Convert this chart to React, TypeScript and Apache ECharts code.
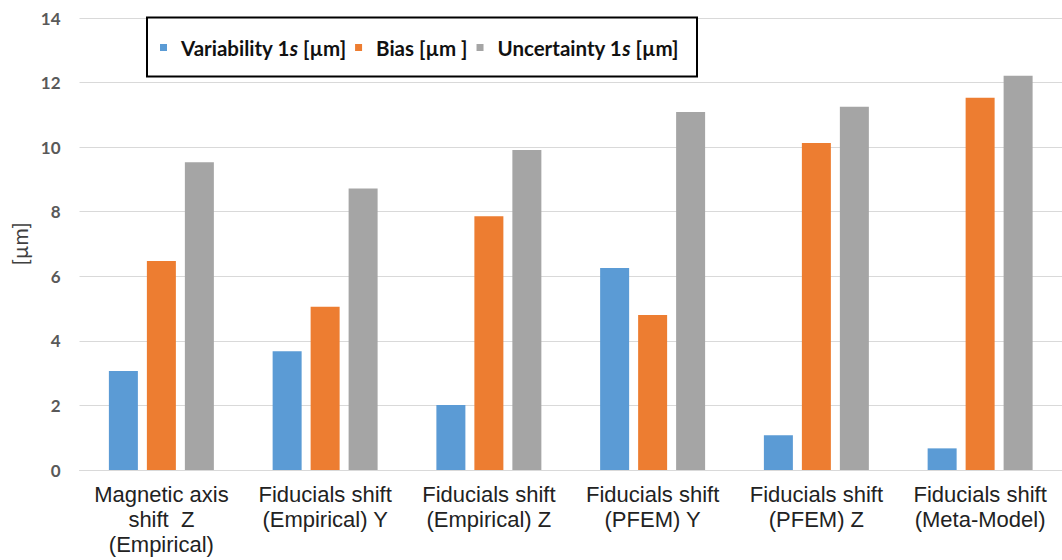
import React, { useEffect, useRef } from "react";
import * as echarts from "echarts";

const categories = [
  "Magnetic axis\nshift  Z\n(Empirical)",
  "Fiducials shift\n(Empirical) Y",
  "Fiducials shift\n(Empirical) Z",
  "Fiducials shift\n(PFEM) Y",
  "Fiducials shift\n(PFEM) Z",
  "Fiducials shift\n(Meta-Model)",
];
const variability = [3.07, 3.68, 2.01, 6.26, 1.08, 0.67];
const bias = [6.47, 5.06, 7.86, 4.8, 10.13, 11.53];
const uncertainty = [9.53, 8.72, 9.91, 11.09, 11.25, 12.21];
const seriesNames = ["Variability 1s [µm]", "Bias [µm ]", "Uncertainty 1s [µm]"];
const yTicks = { min: 0, max: 14, interval: 2 };

export default function App() {
  const ref = useRef<HTMLDivElement>(null);
  useEffect(() => {
    if (!ref.current) return;
    const chart = echarts.init(ref.current, null, { renderer: "svg" });
    const legendFont = { fontFamily: "Lato", fontWeight: "bold", fontSize: 20.5, color: "#111" };
    chart.setOption({
      animation: false,
      backgroundColor: "#ffffff",
      grid: { left: 79.5, right: -7.5, top: 18, bottom: 90, containLabel: false },
      graphic: [
        {
          type: "rect",
          z: 10,
          shape: { x: 147, y: 17.5, width: 550, height: 59 },
          style: { fill: "#ffffff", stroke: "#000000", lineWidth: 2 },
        },
      ],
      legend: {
        z: 20,
        left: 160,
        top: 37,
        padding: 0,
        itemWidth: 7,
        itemHeight: 7,
        itemGap: 9,
        icon: "rect",
        data: seriesNames,
        formatter: (name: string) => name.replace(" 1s ", " 1{i|s} "),
        textStyle: {
          ...legendFont,
          padding: [0, 0, 0, 9],
          rich: {
            i: { ...legendFont, fontStyle: "italic" },
          },
        },
      },
      xAxis: {
        type: "category",
        data: categories,
        axisLine: { show: true, lineStyle: { color: "#D9D9D9", width: 1 } },
        axisTick: { show: false },
        axisLabel: {
          interval: 0,
          margin: 12,
          fontFamily: "Liberation Sans",
          fontSize: 22,
          lineHeight: 25,
          color: "#222222",
          align: "center",
        },
      },
      yAxis: {
        type: "value",
        min: yTicks.min,
        max: yTicks.max,
        interval: yTicks.interval,
        name: "[µm]",
        nameLocation: "middle",
        nameRotate: 90,
        nameGap: 47,
        nameTextStyle: {
          fontFamily: "Lato",
          fontSize: 21,
          color: "#404040",
        },
        axisLine: { show: false },
        axisTick: { show: false },
        splitLine: { lineStyle: { color: "#D9D9D9", width: 1 } },
        axisLabel: {
          margin: 19,
          fontFamily: "Lato",
          fontWeight: "bold",
          fontSize: 17,
          color: "#595959",
        },
      },
      series: [
        { name: seriesNames[0], type: "bar", data: variability, barWidth: 29, barGap: "31%", itemStyle: { color: "#5B9BD5" } },
        { name: seriesNames[1], type: "bar", data: bias, barWidth: 29, barGap: "31%", itemStyle: { color: "#ED7D31" } },
        { name: seriesNames[2], type: "bar", data: uncertainty, barWidth: 29, barGap: "31%", itemStyle: { color: "#A5A5A5" } },
      ],
    });
    return () => chart.dispose();
  }, []);
  return (
    <div
      ref={ref}
      style={{ position: "absolute", left: 0, top: 0, width: 1062, height: 560 }}
    />
  );
}
